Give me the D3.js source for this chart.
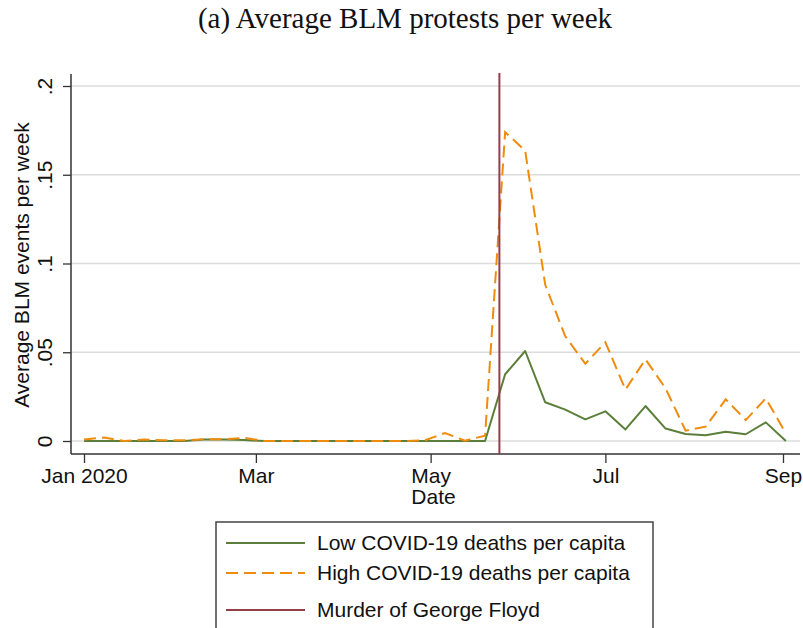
<!DOCTYPE html>
<head>
  <meta charset="utf-8">
  <script src="https://d3js.org/d3.v7.min.js"></script>
  <style>
    body { margin:0; background:#fff; }
    text { font-family: "Liberation Sans", Arial, sans-serif; fill:#111; }
  </style>
</head>
<body>
<script>
// weekly observations, starting Jan 1 2020
var weekStart = new Date(Date.UTC(2020, 0, 1));
var lowDeaths = [0, 0, 0, 0, 0, 0, 0.0008, 0.0008, 0.0005, 0, 0, 0, 0, 0, 0, 0, 0, 0, 0, 0, 0,
  0.0376, 0.0507, 0.0218, 0.0177, 0.0122, 0.0167, 0.0065, 0.0197, 0.007, 0.0039, 0.0032, 0.0052, 0.0038, 0.0105, 0];
var highDeaths = [0.0008, 0.002, 0, 0.0008, 0.0004, 0.0004, 0.001, 0.001, 0.0018, 0, 0, 0, 0, 0, 0, 0, 0, 0.0004, 0.0045, 0.0002, 0.003,
  0.174, 0.1636, 0.088, 0.059, 0.0435, 0.0556, 0.029, 0.046, 0.0297, 0.0058, 0.0081, 0.0235, 0.0118, 0.024, 0.0043];
var floydDate = new Date(Date.UTC(2020, 4, 25));
var xTicks = [new Date(Date.UTC(2020,0,1)), new Date(Date.UTC(2020,2,1)), new Date(Date.UTC(2020,4,1)),
  new Date(Date.UTC(2020,6,1)), new Date(Date.UTC(2020,8,1))];
var xTickLabels = ["Jan 2020", "Mar", "May", "Jul", "Sep"];
var yTicks = [0, 0.05, 0.1, 0.15, 0.2];
var yTickLabels = ["0", ".05", ".1", ".15", ".2"];
var legendLabels = ["Low COVID-19 deaths per capita", "High COVID-19 deaths per capita", "Murder of George Floyd"];

var green = "#5b7f3a", orange = "#ef8c0e", maroon = "#963d4a";

var svg = d3.select("body").append("svg")
  .attr("width", 803)
  .attr("height", 628)

var plotLeft = 71, plotRight = 800, plotTop = 74, plotBottom = 454;

var x = d3.scaleUtc().domain([xTicks[0], xTicks[4]]).range([84, 783]);
var y = d3.scaleLinear().domain([0, 0.2]).range([441, 86]);

function dateOf(i){ return new Date(weekStart.getTime() + i*7*864e5) }

// title
svg.append("text")
  .attr("x", 405).attr("y", 28)
  .attr("text-anchor", "middle")
  .style("font-family", "'Liberation Serif', 'DejaVu Serif', serif")
  .style("font-size", "29px")
  .text("(a) Average BLM protests per week")

// grid
svg.selectAll(".grid").data(yTicks).enter().append("line")
  .attr("x1", plotLeft).attr("x2", plotRight)
  .attr("y1", function(d){ return y(d) }).attr("y2", function(d){ return y(d) })
  .attr("stroke", "#dcdcdc").attr("stroke-width", 1.5)

// axes
var yAxis = d3.axisLeft(y).tickValues(yTicks)
  .tickFormat(function(d, i){ return yTickLabels[i] })
  .tickSize(8).tickSizeOuter(0);
var gy = svg.append("g").attr("transform", "translate(" + plotLeft + ",0)").call(yAxis);
gy.select(".domain").remove();
gy.selectAll(".tick line").attr("stroke", "#333").attr("stroke-width", 1.3);
gy.selectAll(".tick text")
  .style("font-size", "21px").attr("fill", "#111")
  .attr("text-anchor", "middle")
  .attr("x", null).attr("dy", null)
  .attr("transform", "translate(-19,0) rotate(-90)")
  .attr("y", 0);

var xAxis = d3.axisBottom(x).tickValues(xTicks)
  .tickFormat(function(d, i){ return xTickLabels[i] })
  .tickSize(9).tickPadding(5).tickSizeOuter(0);
var gx = svg.append("g").attr("transform", "translate(0," + plotBottom + ")").call(xAxis);
gx.select(".domain").remove();
gx.selectAll(".tick line").attr("stroke", "#333").attr("stroke-width", 1.3);
gx.selectAll(".tick text").style("font-size", "21px").attr("fill", "#111");

svg.append("line").attr("x1", plotLeft).attr("x2", plotLeft).attr("y1", plotTop).attr("y2", plotBottom)
  .attr("stroke", "#333").attr("stroke-width", 1.5)
svg.append("line").attr("x1", plotLeft).attr("x2", plotRight).attr("y1", plotBottom).attr("y2", plotBottom)
  .attr("stroke", "#333").attr("stroke-width", 1.5)

// axis titles
svg.append("text")
  .attr("transform", "translate(29," + ((plotTop + plotBottom) / 2 + 1) + ") rotate(-90)")
  .attr("text-anchor", "middle")
  .style("font-size", "21px")
  .text("Average BLM events per week")
svg.append("text")
  .attr("x", (x(xTicks[0]) + x(xTicks[4])) / 2).attr("y", 504)
  .attr("text-anchor", "middle")
  .style("font-size", "21px")
  .text("Date")

// series
var line = d3.line()
  .x(function(d, i){ return x(dateOf(i)) })
  .y(function(d){ return y(d) })

svg.append("path").datum(lowDeaths)
  .attr("d", line).attr("fill", "none")
  .attr("stroke", green).attr("stroke-width", 2).attr("stroke-linejoin", "round")

svg.append("path").datum(highDeaths)
  .attr("d", line).attr("fill", "none")
  .attr("stroke", orange).attr("stroke-width", 2).attr("stroke-dasharray", "12,6")

svg.append("line")
  .attr("x1", x(floydDate)).attr("x2", x(floydDate))
  .attr("y1", plotTop - 1).attr("y2", plotBottom)
  .attr("stroke", maroon).attr("stroke-width", 2)

// legend
var lg = svg.append("g")
lg.append("rect")
  .attr("x", 216).attr("y", 522).attr("width", 437).attr("height", 120)
  .attr("fill", "#fff").attr("stroke", "#444").attr("stroke-width", 1.5)

var rows = [
  {label: legendLabels[0], color: green, dash: null, y: 543},
  {label: legendLabels[1], color: orange, dash: "12,6", y: 573},
  {label: legendLabels[2], color: maroon, dash: null, y: 610}
];
lg.selectAll(".lline").data(rows).enter().append("line")
  .attr("x1", 226).attr("x2", 305)
  .attr("y1", function(d){ return d.y }).attr("y2", function(d){ return d.y })
  .attr("stroke", function(d){ return d.color })
  .attr("stroke-width", 2)
  .attr("stroke-dasharray", function(d){ return d.dash })
lg.selectAll(".ltext").data(rows).enter().append("text")
  .attr("x", 317).attr("y", function(d){ return d.y })
  .attr("dy", "0.35em")
  .style("font-size", "21px")
  .text(function(d){ return d.label })
</script>
</body>
